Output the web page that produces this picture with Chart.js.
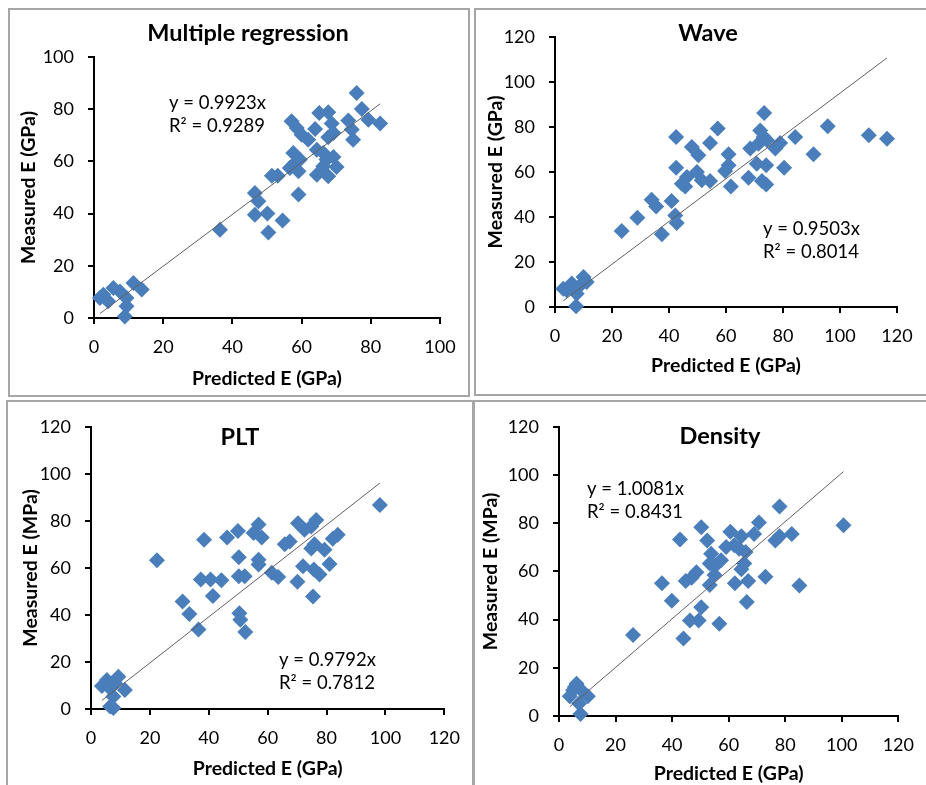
<!DOCTYPE html>
<html>
<head>
<meta charset="utf-8">
<script src="https://cdn.jsdelivr.net/npm/chart.js@4.4.1/dist/chart.umd.min.js"></script>
<style>
  html, body { margin: 0; padding: 0; background: #fff; width: 926px; height: 785px; overflow: hidden; }
  .panel { position: absolute; border: 2px solid #a6a6a6; box-sizing: border-box; background: #fff; }
  .panel canvas { position: absolute; left: 0; top: 0; }
</style>
</head>
<body>
<div class="panel" style="left:8px;top:8px;width:462px;height:389px"><canvas id="c1" width="458" height="385"></canvas></div>
<div class="panel" style="left:474px;top:8px;width:454px;height:388px"><canvas id="c2" width="450" height="384"></canvas></div>
<div class="panel" style="left:6px;top:400px;width:468px;height:390px"><canvas id="c3" width="464" height="383"></canvas></div>
<div class="panel" style="left:473px;top:400px;width:460px;height:390px"><canvas id="c4" width="451" height="383"></canvas></div>
<script>
// --- Data -------------------------------------------------------------------
var mrPredicted = [75.9, 77.4, 79.3, 82.7, 73.5, 74.5, 74.9, 65.1, 67.7, 68.7, 69.2, 67.7, 63.9, 61.9, 57.1, 58.6, 60.0, 57.6, 59.5, 57.6, 59.1, 56.6, 64.4, 66.3, 67.2, 69.2, 70.1, 64.4, 67.7, 66.3, 59.1, 51.4, 53.1, 46.5, 47.5, 46.5, 50.1, 50.4, 54.5, 36.4, 2.7, 5.6, 4.1, 9.4, 11.4, 13.8, 9.4, 8.9, 7.5, 1.7];
var mrMeasured  = [86.2, 80.1, 76.0, 74.5, 75.7, 72.2, 68.3, 78.5, 78.8, 74.5, 70.9, 69.3, 72.4, 68.3, 75.4, 72.8, 70.2, 63.2, 60.7, 58.7, 56.2, 57.5, 64.5, 63.2, 60.7, 61.7, 57.9, 54.9, 54.3, 58.1, 47.3, 54.5, 54.5, 47.9, 44.7, 39.6, 40.0, 32.8, 37.4, 33.8, 8.9, 11.5, 6.4, 7.7, 13.4, 10.9, 4.5, 0.6, 10.2, 7.7];

var wavePredicted = [73.4, 72.0, 57.1, 42.5, 54.4, 95.7, 110.1, 116.5, 84.3, 90.7, 79.0, 77.3, 73.2, 71.4, 68.5, 74.4, 48.0, 50.3, 60.9, 60.9, 59.7, 61.7, 70.8, 74.1, 80.4, 67.9, 72.6, 74.1, 42.5, 49.8, 46.3, 51.5, 54.4, 44.5, 45.7, 33.9, 35.5, 40.9, 28.9, 42.2, 42.7, 37.5, 23.4, 4.1, 5.9, 10.0, 11.1, 7.6, 7.4, 2.9, 8.8];
var waveMeasured  = [86.2, 78.5, 79.3, 75.6, 72.9, 80.3, 76.3, 74.8, 75.6, 67.9, 72.9, 70.4, 75.6, 72.6, 70.4, 74.1, 71.1, 67.4, 67.9, 63.0, 60.4, 53.6, 63.7, 63.0, 61.9, 57.5, 56.0, 54.5, 61.9, 60.0, 57.8, 56.3, 56.0, 54.8, 53.6, 47.7, 44.7, 47.1, 39.7, 40.7, 37.3, 32.3, 33.8, 7.4, 10.4, 13.3, 11.1, 5.9, 0.3, 8.1, 9.6];

var pltPredicted = [98.1, 76.5, 70.3, 72.5, 74.8, 56.9, 55.2, 58.0, 49.9, 46.2, 38.4, 65.8, 67.5, 82.1, 83.8, 75.9, 74.8, 79.3, 22.4, 50.2, 56.9, 56.9, 81.0, 72.0, 75.7, 77.6, 61.4, 63.6, 70.1, 75.4, 37.3, 40.6, 44.3, 50.2, 52.2, 41.4, 31.1, 33.4, 50.4, 50.7, 52.4, 36.5, 3.7, 5.4, 9.3, 11.5, 7.6, 6.5, 7.6, 5.9, 8.2];
var pltMeasured  = [86.7, 80.4, 79.0, 76.2, 77.6, 78.5, 74.8, 72.9, 75.7, 72.9, 72.0, 70.1, 71.2, 72.4, 74.1, 70.1, 68.2, 67.7, 63.3, 64.5, 63.5, 61.4, 61.7, 60.7, 59.3, 57.2, 57.9, 56.1, 54.1, 47.8, 55.1, 55.1, 54.7, 56.5, 56.5, 48.1, 45.7, 40.4, 40.7, 37.9, 32.7, 33.8, 9.8, 12.3, 13.7, 8.1, 5.3, 1.1, 0.4, 9.5, 10.9];

var denPredicted = [78.0, 100.6, 70.7, 50.3, 60.6, 69.0, 64.5, 82.3, 42.8, 52.4, 78.0, 76.5, 59.1, 62.0, 63.7, 66.0, 53.8, 57.3, 53.3, 55.2, 65.5, 64.5, 73.0, 62.2, 66.9, 85.0, 48.6, 46.9, 44.8, 36.4, 55.0, 53.3, 39.9, 66.4, 50.3, 46.3, 49.4, 56.7, 26.2, 44.0, 3.8, 6.2, 5.0, 8.5, 10.2, 7.1, 7.6, 5.6];
var denMeasured  = [86.9, 79.2, 80.3, 78.3, 76.5, 75.5, 74.6, 75.5, 73.2, 72.8, 74.6, 72.8, 70.1, 70.8, 69.4, 68.0, 67.3, 64.6, 63.3, 62.3, 63.3, 60.9, 57.8, 55.1, 56.0, 54.1, 59.6, 57.4, 56.0, 55.1, 58.5, 54.4, 47.8, 47.3, 45.1, 39.6, 39.6, 38.3, 33.6, 32.2, 8.2, 13.4, 10.7, 10.0, 8.2, 5.2, 0.8, 12.0];

var panelTitles = ['Multiple regression', 'Wave', 'PLT', 'Density'];
var slopes      = [0.9923, 0.9503, 0.9792, 1.0081];
var rSquared    = ['0.9289', '0.8014', '0.7812', '0.8431'];
var xMax        = [100, 120, 120, 120];
var yMax        = [100, 120, 120, 120];
var yTitles     = ['Measured E (GPa)', 'Measured E (GPa)', 'Measured E (MPa)', 'Measured E (MPa)'];
var xTitle      = 'Predicted E (GPa)';

// --- Layout per panel (canvas px) -------------------------------------------
var layouts = [
  { yW: 84, xH: 77, top: 47, right: 28, yPad: 7,  xPad: 5,  title: [238, 23], eq: [159, 93] },
  { yW: 79, xH: 87, top: 27, right: 29, yPad: 8,  xPad: 17, title: [232, 23], eq: [287, 219] },
  { yW: 83, xH: 76, top: 22, right: 24, yPad: 11, xPad: 5,  title: [232, 35], eq: [271, 258] },
  { yW: 84, xH: 69, top: 21, right: 23, yPad: 4,  xPad: 0,  title: [245, 34], eq: [112, 87] }
];

var FONT = 'Lato, "Open Sans", sans-serif';

function toPoints(xs, ys){
  return xs.map(function(x, i){ return { x: x, y: ys[i] }; });
}

function trendPoints(xs, slope){
  var lo = Math.min.apply(null, xs), hi = Math.max.apply(null, xs);
  return [{ x: lo, y: slope * lo }, { x: hi, y: slope * hi }];
}

// Title and regression label drawn over the plot, like the Excel text boxes
var panelText = {
  id: 'panelText',
  afterDraw: function(chart, args, opts){
    var ctx = chart.ctx;
    ctx.save();
    ctx.fillStyle = '#000';
    ctx.textBaseline = 'middle';
    ctx.font = 'bold 23.5px ' + FONT;
    ctx.textAlign = 'center';
    ctx.fillText(opts.title, opts.titlePos[0], opts.titlePos[1]);
    ctx.font = '18.5px ' + FONT;
    ctx.textAlign = 'left';
    ctx.fillText('y = ' + opts.slope.toFixed(4) + 'x', opts.eqPos[0], opts.eqPos[1]);
    ctx.fillText('R\u00b2 = ' + opts.r2, opts.eqPos[0], opts.eqPos[1] + 23);
    ctx.restore();
  }
};

function axis(max, title, width, isX, titlePad){
  return {
    type: 'linear',
    min: 0,
    max: max,
    border: { display: true, color: '#000', width: 2 },
    grid: { drawOnChartArea: false, drawTicks: true, tickLength: 6, color: '#000', lineWidth: 2 },
    ticks: { stepSize: 20, color: '#000', padding: isX ? 12 : 14, font: { family: FONT, size: 18 } },
    title: {
      display: true, text: title, color: '#000',
      font: { family: FONT, size: 19.5, weight: 'bold' },
      padding: isX ? { top: 0, bottom: titlePad } : { top: titlePad, bottom: 0 }
    },
    afterFit: function(scale){
      if (isX) scale.height = width; else scale.width = width;
    }
  };
}

var sets = [
  [mrPredicted, mrMeasured],
  [wavePredicted, waveMeasured],
  [pltPredicted, pltMeasured],
  [denPredicted, denMeasured]
];

sets.forEach(function(s, i){
  var L = layouts[i];
  new Chart(document.getElementById('c' + (i + 1)), {
    type: 'scatter',
    data: {
      datasets: [{
        label: 'Trend',
        data: trendPoints(s[0], slopes[i]),
        showLine: true,
        borderColor: '#606060',
        borderWidth: 1,
        pointRadius: 0,
        clip: false
      }, {
        label: panelTitles[i],
        data: toPoints(s[0], s[1]),
        pointStyle: 'rectRot',
        pointRadius: 8,
        backgroundColor: '#4a7ebb',
        borderColor: '#4a7ebb',
        borderWidth: 0,
        clip: false
      }]
    },
    options: {
      responsive: false,
      animation: false,
      layout: { padding: { left: 0, top: L.top, right: L.right, bottom: 0 } },
      scales: {
        x: axis(xMax[i], xTitle, L.xH, true, L.xPad),
        y: axis(yMax[i], yTitles[i], L.yW, false, L.yPad)
      },
      plugins: {
        legend: { display: false },
        tooltip: { enabled: false },
        panelText: {
          title: panelTitles[i], titlePos: L.title,
          slope: slopes[i], r2: rSquared[i], eqPos: L.eq
        }
      }
    },
    plugins: [panelText]
  });
});
</script>
</body>
</html>
